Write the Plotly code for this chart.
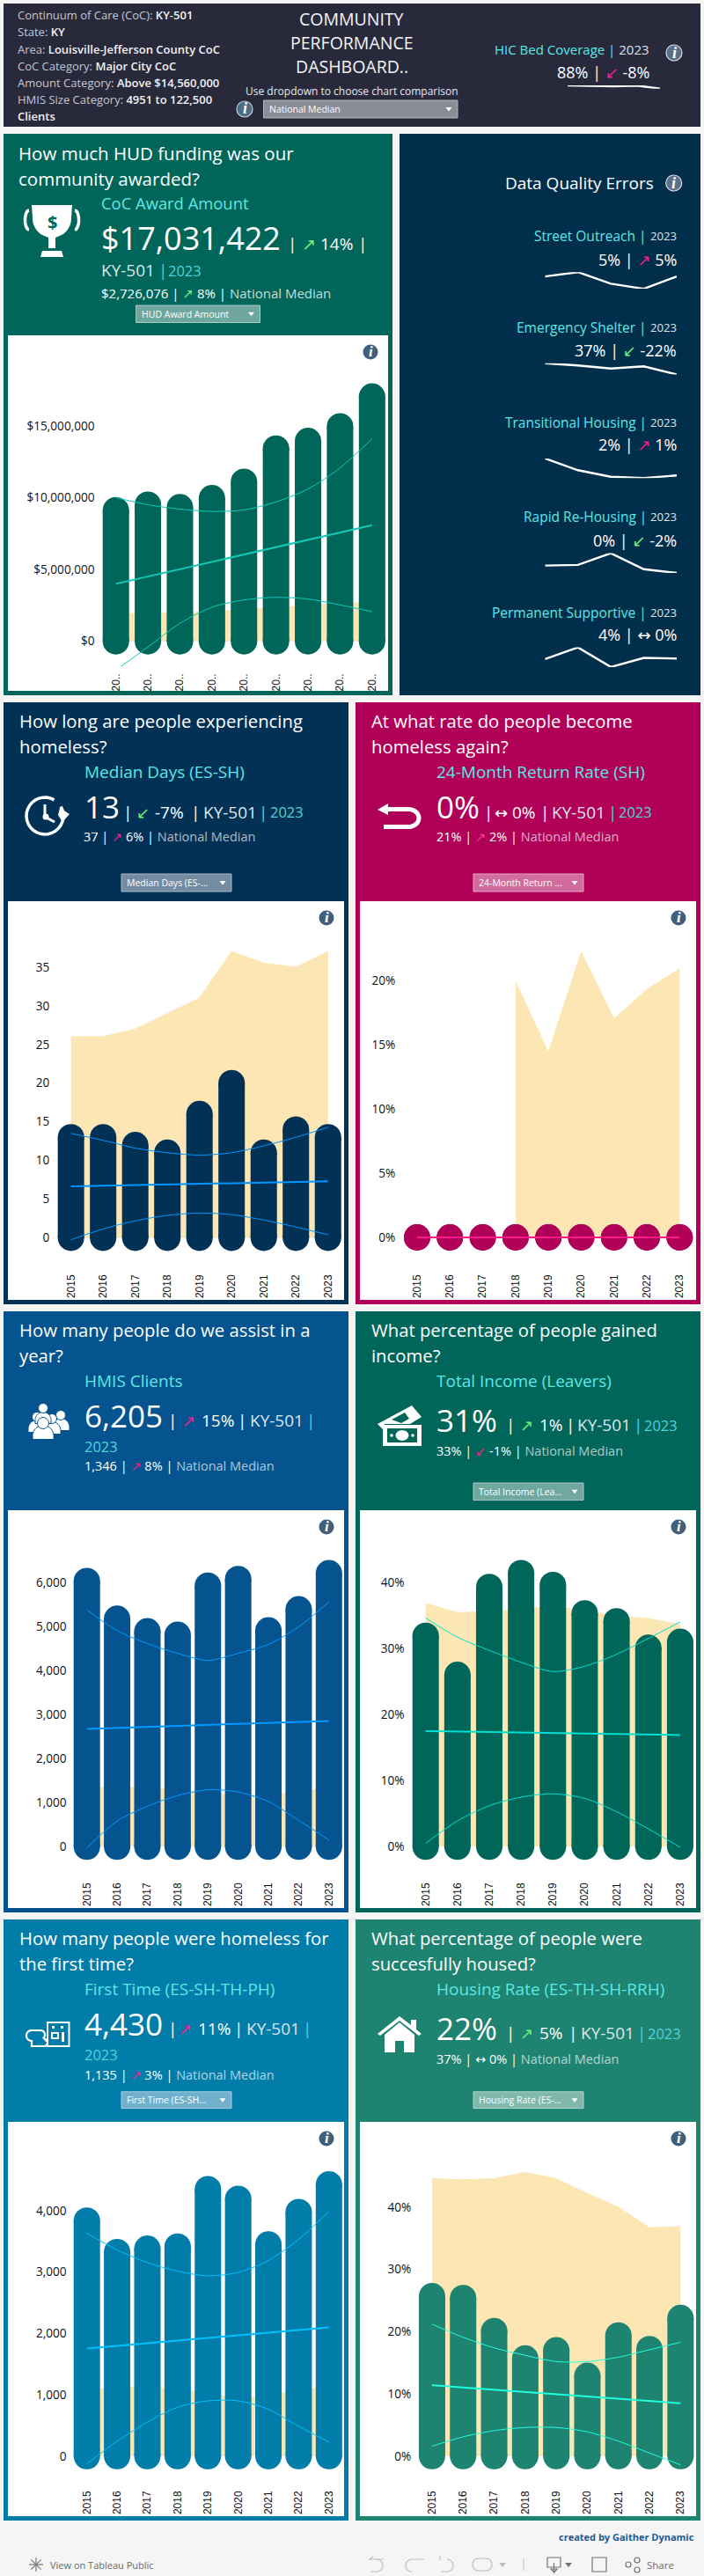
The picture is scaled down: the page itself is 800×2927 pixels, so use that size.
import numpy as np
import plotly.graph_objects as go

W, H = 800, 2927
FONT = "Open Sans, DejaVu Sans, sans-serif"
TICKFONT = "Open Sans, sans-serif"

# ------------------ chart data ------------------
years = [2015, 2016, 2017, 2018, 2019, 2020, 2021, 2022, 2023]
trend_years = [2015, 2023]
spark_years = [2019, 2020, 2021, 2022, 2023]

award_values = [9120000, 9510000, 9330000, 9960000, 11100000, 13410000, 13940000, 14960000, 17031422]
award_median = [1920000, 1920000, 1960000, 2060000, 2200000, 2370000, 2510000, 2630000, 2726076]
award_trend = [4000000, 8080000]
award_upper = [10000000, 9500000, 9200000, 9040000, 9140000, 9700000, 10600000, 12060000, 14100000]
award_lower = [-2000000, -400000, 1250000, 2370000, 2880000, 3060000, 2940000, 2530000, 2060000]

days_values = [13, 13, 12, 11, 16, 20, 11, 14, 13]
days_median = [26, 26, 27, 29, 31, 37, 35.5, 35, 37]
days_trend = [6.65, 7.3]
days_upper = [13.5, 12.6, 11.6, 11, 10.7, 11, 11.9, 13, 14.3]
days_lower = [-0.25, 1.15, 2.2, 2.9, 3.2, 3.0, 2.3, 1.4, 0.4]

return_values = [0, 0, 0, 0, 0, 0, 0, 0, 0]
return_median = [None, None, None, 19.9, 14.4, 22.2, 17, 19.3, 20.9]
return_trend = [0, 0]

clients_values = [6028, 5173, 4888, 4808, 5922, 6073, 4906, 5387, 6205]
clients_median = [1360, 1355, 1340, 1285, 1225, 1165, 1170, 1240, 1346]
clients_trend = [2674, 2852]
clients_upper = [5374, 4902, 4608, 4385, 4225, 4385, 4590, 4990, 5553]
clients_lower = [-27, 580, 918, 1159, 1292, 1239, 1025, 597, 152]

income_values = [31.9, 26.0, 39.3, 41.4, 39.6, 35.3, 34.1, 30.1, 31]
income_median = [36.8, 35.4, 35.6, 35.9, 36.4, 35.6, 34.9, 34.5, 33.6]
income_trend = [17.5, 16.9]
income_upper = [34.6, 31.7, 29.7, 27.9, 26.5, 27.3, 29.1, 31.5, 34.0]
income_lower = [0.5, 3.9, 6.2, 7.5, 8.0, 7.3, 5.3, 2.7, -0.1]

first_values = [3840, 3327, 3383, 3417, 4353, 4194, 3452, 3979, 4430]
first_median = [1090, 1110, 1130, 1095, 1015, 945, 980, 1085, 1135]
first_trend = [1754, 2100]
first_upper = [3633, 3362, 3154, 3016, 2939, 2995, 3189, 3535, 3986]
first_lower = [-125, 243, 555, 797, 901, 901, 763, 485, 229]

housing_values = [25.7, 25.4, 20.1, 15.7, 17.0, 12.9, 19.4, 17.2, 22.2]
housing_median = [44.6, 44.4, 44.6, 45.6, 44.6, 42.2, 40, 36.7, 36.9]
housing_trend = [11.4, 8.5]
housing_upper = [21.2, 19.1, 17.4, 16.2, 15.2, 15.2, 15.9, 17.1, 18.3]
housing_lower = [1.6, 3.1, 4.1, 4.6, 4.6, 3.9, 2.4, 0.5, -1.4]

spark_hic = [95, 94.5, 93, 94.5, 88]
spark_street = [5.0, 5.6, 4.0, 3.3, 5.0]
spark_shelter = [42, 41, 39.6, 40.6, 37]
spark_transitional = [3.5, 2.6, 2.1, 2.0, 2.2]
spark_rapid = [0.6, 0.65, 1.6, 0.3, 0]
spark_permanent = [3.6, 4.5, 3.0, 3.7, 3.65]

short_labels = ["20.."] * 9
year_labels = [str(y) for y in years]

money_ticks = [0, 5000000, 10000000, 15000000]
money_labels = ["$0", "$5,000,000", "$10,000,000", "$15,000,000"]
days_ticks = [0, 5, 10, 15, 20, 25, 30, 35]
days_labels = ["0", "5", "10", "15", "20", "25", "30", "35"]
return_ticks = [0, 5, 10, 15, 20]
return_labels = ["0%", "5%", "10%", "15%", "20%"]
clients_ticks = [0, 1000, 2000, 3000, 4000, 5000, 6000]
clients_labels = ["0", "1,000", "2,000", "3,000", "4,000", "5,000", "6,000"]
pct_ticks = [0, 10, 20, 30, 40]
pct_labels = ["0%", "10%", "20%", "30%", "40%"]
first_ticks = [0, 1000, 2000, 3000, 4000]
first_labels = ["0", "1,000", "2,000", "3,000", "4,000"]

# ------------------ colours ------------------
PAGE = "#F5F5F5"
TOP = "#282A3C"
GREEN = "#00665A"
NAVY_DQ = "#012F4B"
NAVY = "#023156"
MAGENTA = "#B00058"
BLUE = "#05548F"
CERULEAN = "#027DAA"
SEA = "#1E8370"
MEDIAN = "#FCE6B3"
TEAL = "#5CE8E6"
TEAL2 = "#52D3D6"
WHITE = "#FFFFFF"
SOFT = "#DCE6EA"
UP_G = "#6EF07A"
PINK = "#F0208C"

TITLE = 20.3
SUBT = 19
ROW = 19
YEAR = 16.5
ROW3 = 14.5


def fx(x):
    return x / W


def fy(y):
    return 1 - y / H


shapes = []
annotations = []
axes = {}
traces = []
axis_n = [0]


def rect(x0, y0, x1, y1, fill, line=None, layer="below", lw=1):
    shapes.append(dict(type="rect", xref="paper", yref="paper", x0=fx(x0), x1=fx(x1), y0=fy(y1), y1=fy(y0),
                       fillcolor=fill, line=dict(color=line or fill, width=lw if line else 0), layer=layer))


def circle(cx, cy, r, fill=None, line=None, lw=1, layer="above", ry=None):
    ry = r if ry is None else ry
    shapes.append(dict(type="circle", xref="paper", yref="paper", x0=fx(cx - r), x1=fx(cx + r), y0=fy(cy + ry),
                       y1=fy(cy - ry), fillcolor=fill or "rgba(0,0,0,0)",
                       line=dict(color=line or "rgba(0,0,0,0)", width=lw if line else 0), layer=layer))


def poly(pts, fill=None, line=None, lw=1, closed=True, layer="above"):
    d = "M " + " L ".join(f"{fx(a):.5f},{fy(b):.5f}" for a, b in pts)
    if closed:
        d += " Z"
    shapes.append(dict(type="path", xref="paper", yref="paper", path=d, fillcolor=fill or "rgba(0,0,0,0)",
                       line=dict(color=line or "rgba(0,0,0,0)", width=lw if line else 0), layer=layer))


def arc(cx, cy, r, a0, a1, n=28, ry=None):
    ry = r if ry is None else ry
    t = np.radians(np.linspace(a0, a1, n))
    return [(cx + r * np.cos(v), cy + ry * np.sin(v)) for v in t]


def T(x, y, s, size, color=WHITE, anchor="left", family=FONT):
    annotations.append(dict(xref="paper", yref="paper", x=fx(x), y=fy(y), text=s, showarrow=False,
                            xanchor=anchor, yanchor="middle", align=anchor,
                            font=dict(size=size, color=color, family=family)))


def sp(s, color):
    return f'<span style="color:{color}">{s}</span>'


def semi(s):
    return f'<span style="font-weight:600">{s}</span>'


def info(x, y, r=8.5, fill="#3F5F7C", border=None):
    circle(x, y, r, fill=fill, line=border, lw=1.2)
    T(x, y - 0.5, "<b><i>i</i></b>", r * 2, WHITE, "center", "Liberation Serif, serif")


def dropdown(x0, y0, x1, y1, label, fill, border):
    rect(x0, y0, x1, y1, fill, border, layer="above", lw=1)
    T(x0 + 4, (y0 + y1) / 2, label, 10.5, WHITE)
    cx, cy = x1 - 10, (y0 + y1) / 2
    poly([(cx - 3.5, cy - 2), (cx + 3.5, cy - 2), (cx, cy + 2.5)], fill=WHITE)


def chart(values, median, trend, upper, lower, left, right, top, bottom, zero_px, px_per_unit,
          color, line_color, ticks, labels, xlabels, tick_fmt_size=13.6):
    n = axis_n[0] = axis_n[0] + 1
    sfx = "" if n == 1 else str(n)
    xname, yname = "x" + sfx, "y" + sfx
    step = (right - left) / 9
    y_lo = (zero_px - bottom) / px_per_unit
    y_hi = (zero_px - top) / px_per_unit
    axes["xaxis" + sfx] = dict(domain=[fx(left), fx(right)], range=[2014.5, 2023.5], anchor=yname,
                               tickmode="array", tickvals=years, ticktext=xlabels, tickangle=-90,
                               showgrid=False, zeroline=False, showline=False, ticks="", ticklabelstandoff=5,
                               tickfont=dict(family="Liberation Sans, Arial, sans-serif", size=12, color="#111"),
                               fixedrange=True)
    axes["yaxis" + sfx] = dict(domain=[fy(bottom), fy(top)], range=[y_lo, y_hi], anchor=xname,
                               tickmode="array", tickvals=ticks, ticktext=labels,
                               showgrid=False, zeroline=False, showline=False, ticks="", ticklabelstandoff=5,
                               tickfont=dict(family=TICKFONT, size=tick_fmt_size, color="#111"), fixedrange=True)
    traces.append(go.Scatter(x=years, y=median, mode="lines", fill="tozeroy", fillcolor=MEDIAN,
                             line=dict(color=MEDIAN, width=1), xaxis=xname, yaxis=yname, zorder=0,
                             showlegend=False, hoverinfo="skip"))
    traces.append(go.Bar(x=years, y=values, width=30 / step, marker=dict(color=color, line=dict(width=0)),
                         xaxis=xname, yaxis=yname, zorder=1, showlegend=False))
    traces.append(go.Scatter(x=years + years, y=values + [0] * len(years), mode="markers",
                             marker=dict(size=30, color=color, line=dict(width=0)),
                             xaxis=xname, yaxis=yname, zorder=1, showlegend=False, hoverinfo="skip"))
    traces.append(go.Scatter(x=trend_years, y=trend, mode="lines", line=dict(color=line_color, width=2),
                             xaxis=xname, yaxis=yname, zorder=2, showlegend=False))
    for band in (upper, lower):
        if band is not None:
            traces.append(go.Scatter(x=years, y=band, mode="lines",
                                     line=dict(color=line_color, width=1, shape="spline", smoothing=0.8),
                                     xaxis=xname, yaxis=yname, zorder=2, showlegend=False, hoverinfo="skip"))


def spark(vals, x0, x1, top, bottom):
    n = axis_n[0] = axis_n[0] + 1
    sfx = str(n)
    axes["xaxis" + sfx] = dict(domain=[fx(x0), fx(x1)], range=[spark_years[0], spark_years[-1]], visible=False,
                               anchor="y" + sfx, fixedrange=True)
    axes["yaxis" + sfx] = dict(domain=[fy(bottom), fy(top)], range=[min(vals), max(vals)], visible=False,
                               anchor="x" + sfx, fixedrange=True)
    traces.append(go.Scatter(x=spark_years, y=vals, mode="lines", line=dict(color=WHITE, width=2.4), cliponaxis=False,
                             xaxis="x" + sfx, yaxis="y" + sfx, showlegend=False))


# ------------------ panels ------------------
rect(4, 4, 796, 144, TOP)
rect(4, 152, 446, 790, GREEN)
rect(9, 381, 441, 785, WHITE)
rect(454, 152, 796, 790, NAVY_DQ)
rect(4, 798, 396, 1482, NAVY)
rect(9, 1024, 391, 1477, WHITE)
rect(404, 798, 796, 1482, MAGENTA)
rect(409, 1024, 791, 1477, WHITE)
rect(4, 1490, 396, 2173, BLUE)
rect(9, 1716, 391, 2168, WHITE)
rect(404, 1490, 796, 2173, GREEN)
rect(409, 1716, 791, 2168, WHITE)
rect(4, 2181, 396, 2864, CERULEAN)
rect(9, 2411, 391, 2859, WHITE)
rect(404, 2181, 796, 2864, SEA)
rect(409, 2411, 791, 2859, WHITE)

# ------------------ charts ------------------
chart(award_values, award_median, award_trend, award_upper, award_lower, 113.5, 441, 385, 757, 728.7, 16.33e-6,
      GREEN, "#12C9B8", money_ticks, money_labels, short_labels)
chart(days_values, days_median, days_trend, days_upper, days_lower, 62.4, 391, 1029, 1440, 1406.5, 8.79,
      NAVY, "#0095FF", days_ticks, days_labels, year_labels)
chart(return_values, return_median, return_trend, None, None, 455.3, 791, 1029, 1440, 1406, 14.6,
      MAGENTA, "#FF1A8C", return_ticks, return_labels, year_labels)
chart(clients_values, clients_median, clients_trend, clients_upper, clients_lower, 81.5, 391, 1721, 2131, 2098.3, 0.05008,
      BLUE, "#0099FF", clients_ticks, clients_labels, year_labels)
chart(income_values, income_median, income_trend, income_upper, income_lower, 465.6, 791, 1721, 2131, 2098.3, 7.51,
      GREEN, "#00E0D0", pct_ticks, pct_labels, year_labels)
chart(first_values, first_median, first_trend, first_upper, first_lower, 81.5, 391, 2416, 2822, 2790.8, 0.0697,
      CERULEAN, "#00C0FF", first_ticks, first_labels, year_labels)
chart(housing_values, housing_median, housing_trend, housing_upper, housing_lower, 473.3, 791, 2416, 2822, 2790.8, 7.07,
      SEA, "#20FFE0", pct_ticks, pct_labels, year_labels)

spark(spark_hic, 645, 750, 97, 100.7)
spark(spark_street, 619.3, 769, 309.2, 328.1)
spark(spark_shelter, 619.3, 769, 412.7, 425.4)
spark(spark_transitional, 619.3, 769, 520.9, 543.2)
spark(spark_rapid, 619.3, 769, 628.6, 651)
spark(spark_permanent, 619.3, 769, 735.6, 757.9)

# ------------------ header ------------------
LABEL = "#C4C8D0"
for yy, a, b in [(17.3, "Continuum of Care (CoC): ", "KY-501"), (36.3, "State: ", "KY"),
                 (55.7, "Area: ", "Louisville-Jefferson County CoC"), (74.7, "CoC Category: ", "Major City CoC"),
                 (93.7, "Amount Category: ", "Above $14,560,000"), (112.7, "HMIS Size Category: ", "4951 to 122,500"),
                 (131.7, "", "Clients")]:
    T(18, yy, sp(a, LABEL) + semi(b), 13, "#F2F3F5")
T(399.5, 21.3, "COMMUNITY", 19.5, "#F4F4F6", "center")
T(399.5, 48.3, "PERFORMANCE", 19.5, "#F4F4F6", "center")
T(399.5, 76, "DASHBOARD..", 19.5, "#F4F4F6", "center")
T(399.5, 104, "Use dropdown to choose chart comparison", 12, "#E8E9EC", "center")
info(278, 124, 9, "#4E6A84", "#C8D0D8")
dropdown(299.5, 114, 520, 134, "National Median", "#8A8C96", "#B4B7BC")
T(740, 55.7, sp("HIC Bed Coverage", TEAL) + sp(" | ", TEAL) + sp("2023", SOFT), 15, TEAL, "right")
T(740, 81.7, "88% | " + sp("↙", PINK) + " -8%", 18, WHITE, "right")
info(766, 60, 9, "#5A6E84", "#D8DEE4")

# ------------------ data quality ------------------
T(745, 208, "Data Quality Errors", 19, WHITE, "right")
info(765.7, 208, 9, "#5A7088", "#D8DEE4")
for yt, yv, name, val, arrow, acolor, delta in [
    (268.4, 294.5, "Street Outreach", "5%", "↗", PINK, "5%"),
    (372.3, 397.6, "Emergency Shelter", "37%", "↙", UP_G, "-22%"),
    (479.6, 505.3, "Transitional Housing", "2%", "↗", PINK, "1%"),
    (587.4, 613.5, "Rapid Re-Housing", "0%", "↙", UP_G, "-2%"),
    (695.6, 720.8, "Permanent Supportive", "4%", "↔", WHITE, "0%"),
]:
    T(771, yt, "2023", 13.2, SOFT, "right")
    T(737, yt, name + " |", 15.5, TEAL, "right")
    T(770.7, yv, f"{val} | " + sp(arrow, acolor) + f" {delta}", 18, WHITE, "right")

# ------------------ panel A text ------------------
T(19.4, 174, "How much HUD funding was our", 20.5)
T(19.4, 202.7, "community awarded?", 20.5)
T(113, 231, "CoC Award Amount", 18.4, TEAL)
T(113, 270.7, "$17,031,422", 36)
T(325, 276.7, "|", ROW)
T(341, 276.7, sp("↗", UP_G), ROW)
T(362, 276.7, "14%", ROW)
T(405, 276.7, "|", ROW)
T(113, 307, "KY-501", ROW, SOFT)
T(178, 307, "|", ROW, TEAL2)
T(189, 307, "2023", YEAR, TEAL2)
T(113, 332.7, "$2,726,076 | " + sp("↗", UP_G) + " 8% | " + sp("National Median", "#C8DEDA"), 15)
dropdown(154.6, 347, 295.5, 366.5, "HUD Award Amount", "#6FA79E", "#A8CCC6")
info(421, 400)


def metric_row(x_off, y, sep1, arrow_x, arrow, acolor, delta_x, delta, sep2, ky_x, sep3, year_x):
    T(sep1 + x_off - 3, y, "|", ROW)
    T(arrow_x + x_off, y, sp(arrow, acolor), ROW - 1)
    T(delta_x + x_off, y, delta, ROW)
    T(sep2 + x_off - 3, y, "|", ROW)
    T(ky_x + x_off, y, "KY-501", ROW, SOFT)
    T(sep3 + x_off - 3, y, "|", ROW, TEAL2)
    if year_x is not None:
        T(year_x + x_off, y, "2023", YEAR, TEAL2)


SUB = "rgba(255,255,255,0.68)"
# panel B
T(20, 819.5, "How long are people experiencing", TITLE)
T(20, 848, "homeless?", TITLE)
T(94, 877, "Median Days (ES-SH)", SUBT, TEAL)
T(94, 916, "13", 35)
metric_row(0, 922.6, 141, 153, "↙", UP_G, 174, "-7%", 218, 229, 295, 305)
T(93, 950.7, "37 | " + sp("↗", PINK) + " 6% | " + sp("National Median", SUB), ROW3)
dropdown(138, 993, 263, 1013, "Median Days (ES-...", "#748CA2", "#A8B8C6")
info(371, 1043)
# panel C
T(420, 819.5, "At what rate do people become", TITLE)
T(420, 848, "homeless again?", TITLE)
T(494, 877, "24-Month Return Rate (SH)", SUBT, TEAL)
T(494, 916, "0%", 35)
metric_row(400, 922.6, 151, 160, "↔", WHITE, 180, "0%", 215, 225, 292, 301)
T(494, 950.7, "21% | " + sp("↗", "#F04098") + " 2% | " + sp("National Median", SUB), ROW3)
dropdown(538, 993, 663, 1013, "24-Month Return ...", "#D26C9E", "#E4A4C4")
info(771, 1043)
# panel D
T(20, 1511, "How many people do we assist in a", TITLE)
T(20, 1540, "year?", TITLE)
T(94, 1569, "HMIS Clients", SUBT, TEAL)
T(94, 1608.6, "6,205", 35)
metric_row(0, 1614, 192, 205, "↗", PINK, 227, "15%", 271, 282, 349, None)
T(94, 1643, "2023", YEAR, TEAL2)
T(94, 1665, "1,346 | " + sp("↗", PINK) + " 8% | " + sp("National Median", SUB), ROW3)
info(371, 1735)
# panel E
T(420, 1511, "What percentage of people gained", TITLE)
T(420, 1540, "income?", TITLE)
T(494, 1569, "Total Income (Leavers)", SUBT, TEAL)
T(494, 1613, "31%", 35)
metric_row(400, 1619, 176, 189, "↗", UP_G, 211, "1%", 244, 254, 321, 330)
T(494, 1648.7, "33% | " + sp("↙", PINK) + " -1% | " + sp("National Median", SUB), ROW3)
dropdown(538, 1685, 663, 1704.6, "Total Income (Lea...", "#70A8A0", "#A8CCC6")
info(771, 1735)
# panel F
T(20, 2202.4, "How many people were homeless for", TITLE)
T(20, 2231.4, "the first time?", TITLE)
T(94, 2260.3, "First Time (ES-SH-TH-PH)", SUBT, TEAL)
T(94, 2299.5, "4,430", 35)
metric_row(0, 2305.3, 192, 201, "↗", PINK, 223, "11%", 267, 278, 345, None)
T(94, 2334, "2023", YEAR, TEAL2)
T(94, 2357, "1,135 | " + sp("↗", PINK) + " 3% | " + sp("National Median", SUB), ROW3)
dropdown(138, 2376.8, 263, 2395.6, "First Time (ES-SH...", "#70B0CC", "#A8D0E0")
info(371, 2430)
# panel G
T(420, 2202.4, "What percentage of people were", TITLE)
T(420, 2231.4, "succesfully housed?", TITLE)
T(494, 2260.3, "Housing Rate (ES-TH-SH-RRH)", SUBT, TEAL)
T(494, 2304, "22%", 35)
metric_row(400, 2310, 176, 189, "↗", UP_G, 211, "5%", 247, 258, 325, 334)
T(494, 2339.6, "37% | ↔ 0% | " + sp("National Median", SUB), ROW3)
dropdown(538, 2376.8, 663, 2395.6, "Housing Rate (ES-...", "#80B8AC", "#B0D4CC")
info(771, 2430)

# ------------------ icons ------------------
# trophy
poly(arc(33, 250, 4.5, 90, 270, ry=11) + [(33, 239)], None, WHITE, 3.5, closed=False)
poly(arc(85, 250, 4.5, -90, 90, ry=11), None, WHITE, 3.5, closed=False)
poly([(36, 233), (82, 233), (81, 248)] + arc(59, 248, 22, 0, 60) +
     [(63, 270), (63, 282), (55, 282), (55, 270)] + arc(59, 248, 22, 120, 180) + [(37, 248)], fill=WHITE)
poly([(48, 285), (70, 285), (72, 292), (46, 292)], fill=WHITE)
T(59, 253, "<b>$</b>", 20, GREEN, "center")
# clock
poly(arc(51, 927, 21, -30, 300), None, WHITE, 3.5, closed=False)
poly([(68, 918), (79, 925), (71, 934), (66, 926)], fill=WHITE)
poly([(51, 914), (51, 928), (62, 934)], None, WHITE, 3, closed=False)
circle(52, 928, 3.5, fill=WHITE)
# return arrow
poly([(429, 920), (441, 913), (441, 926)], fill=WHITE)
poly([(439, 919.5), (464, 919.5)] + arc(464, 929.5, 12, -90, 90, ry=10) + [(436, 939.5)], None, WHITE, 5, closed=False)
# people
for cx, cy, r, bw in [(42, 1610, 5.5, 10), (69, 1608, 5.5, 10), (59, 1612, 5.5, 10), (49, 1600, 5.5, 9), (49, 1617, 6.5, 12)]:
    bb = cy + r + 12 if cy + r + 12 < 1643 else 1642
    poly([(cx - bw, bb)] + arc(cx, cy + r + 8, bw, 180, 360) + [(cx + bw, bb)], fill=WHITE, line=BLUE, lw=1)
    circle(cx, cy, r, fill=WHITE, line=BLUE, lw=1)
# money
poly([(429, 1618), (468, 1597), (479, 1610), (466, 1618), (437, 1618), (435, 1624)], fill=WHITE)
poly([(445, 1613), (460, 1605), (465, 1612), (456, 1617)], fill=GREEN)
rect(435, 1619, 479, 1643, WHITE, layer="above")
rect(440, 1623, 474, 1639, GREEN, layer="above")
circle(457, 1631, 7.5, fill=WHITE, ry=6)
circle(445, 1631, 1.8, fill=WHITE)
circle(469, 1631, 1.8, fill=WHITE)
# first time
rect(54, 2298, 78.5, 2325, CERULEAN, WHITE, layer="above", lw=2)
rect(59, 2302, 62, 2305, WHITE, layer="above")
rect(69, 2302, 72, 2305, WHITE, layer="above")
rect(59, 2310, 66, 2316, "rgba(0,0,0,0)", WHITE, layer="above", lw=2)
rect(70, 2309, 73, 2320, WHITE, layer="above")
poly(arc(36, 2313, 6, 90, 270) + [(46, 2307)] + arc(46, 2312, 5, -90, 45) +
     [(52, 2318)] + arc(50, 2321, 4, -60, 90) + [(36, 2325)], None, WHITE, 2.2)
# home
poly([(429, 2311), (454, 2291), (467, 2301), (467, 2295), (473, 2295), (473, 2306), (479, 2311), (476, 2313),
      (454, 2296), (432, 2313)], fill=WHITE)
poly([(437, 2312), (454, 2298), (471, 2312), (471, 2332), (459, 2332), (459, 2319), (449, 2319), (449, 2332), (437, 2332)],
     fill=WHITE)

# ------------------ footer ------------------
T(791, 2882.6, "<b>created by Gaither Dynamic</b>", 11, "#1D5A96", "right")
T(55, 2914, "View on Tableau Public", 11, "#666A70")
for ang in range(0, 180, 45):
    a = np.radians(ang)
    poly([(41 - 8 * np.cos(a), 2914 - 8 * np.sin(a)), (41 + 8 * np.cos(a), 2914 + 8 * np.sin(a))], None, "#777", 1.2,
         closed=False)
GRAY = "#BDBDBD"
poly(arc(428, 2915, 7, -90, 90) + [(421, 2922)], None, GRAY, 1.2, closed=False)
poly([(424, 2905), (420, 2908), (436, 2908)], None, GRAY, 1.2, closed=False)
poly(arc(468, 2915, 7, 90, 270) + [(482, 2908)], None, GRAY, 1.2, closed=False)
poly(arc(508, 2915, 7, -90, 90) + [(501, 2922)], None, GRAY, 1.2, closed=False)
poly([(500, 2904), (500, 2909)], None, GRAY, 1.2, closed=False)
poly(arc(544, 2914, 7, 90, 270) + [(552, 2907)] + arc(552, 2914, 7, -90, 90) + [(544, 2921)], None, GRAY, 1.2)
poly([(567, 2912), (575, 2912), (571, 2917)], fill=GRAY)
poly([(595, 2907), (595, 2921)], None, GRAY, 1, closed=False)
D = "#6F7378"
poly([(622, 2906), (637, 2906), (637, 2917), (622, 2917)], None, D, 1.2)
poly([(629.5, 2912), (629.5, 2923), (626, 2919), (633, 2919), (629.5, 2923)], None, D, 1.2, closed=False)
poly([(642, 2912), (650, 2912), (646, 2917)], fill=D)
rect(673, 2906, 689, 2922, "rgba(0,0,0,0)", D, layer="above", lw=1.2)
rect(677, 2910, 685, 2918, PAGE, PAGE, layer="above", lw=1)
circle(714, 2914, 3, line=D, lw=1.2)
circle(724, 2909, 3, line=D, lw=1.2)
circle(724, 2920, 3, line=D, lw=1.2)
T(733, 2914, "Share", 11.5, "#666A70")

fig = go.Figure(data=traces)
fig.update_layout(width=W, height=H, margin=dict(l=0, r=0, t=0, b=0), autosize=False, paper_bgcolor=PAGE,
                  plot_bgcolor="rgba(0,0,0,0)", shapes=shapes, annotations=annotations, showlegend=False,
                  barmode="overlay", font=dict(family=FONT), **axes)
fig.write_html("out.html", config=dict(displayModeBar=False, responsive=False),
               post_script="document.body.style.margin='0';document.body.style.background='#F5F5F5';"
                           "document.documentElement.style.overflow='hidden';")
